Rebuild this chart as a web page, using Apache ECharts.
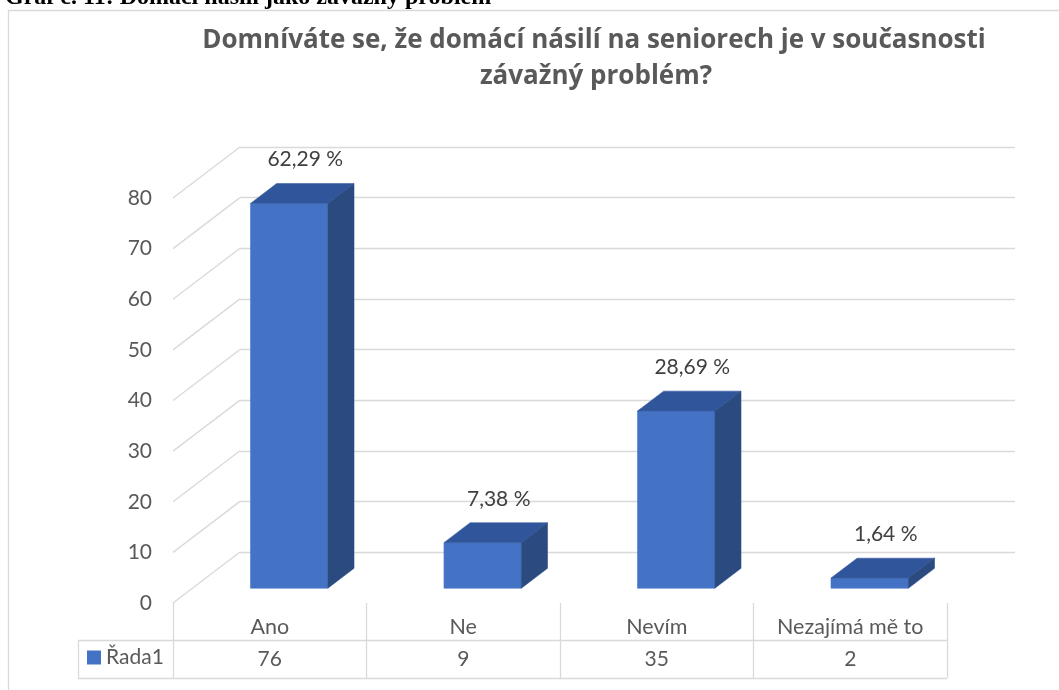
<!DOCTYPE html>
<html>
<head>
<meta charset="utf-8">
<script src="https://cdn.jsdelivr.net/npm/echarts@6/dist/echarts.min.js"></script>
<style>
html,body{margin:0;padding:0;background:#fff;}
#chart{width:1059px;height:690px;}
</style>
</head>
<body>
<div id="chart"></div>
<script>
// ---- data ----
const categories = ['Ano', 'Ne', 'Nevím', 'Nezajímá mě to'];
const counts = [76, 9, 35, 2];
const percentLabels = ['62,29 %', '7,38 %', '28,69 %', '1,64 %'];
const yTicks = [0, 10, 20, 30, 40, 50, 60, 70, 80];
const seriesName = 'Řada1';
const titleLines = ['Domníváte se, že domácí násilí na seniorech je v současnosti', 'závažný problém?'];
const headerText = 'Graf č. 11: Domácí násilí jako závažný problém';

// ---- 3D look constants (oblique projection) ----
const DEPTH_DX = 67, DEPTH_DY = -51;     // full floor depth
const FRONT_T = 0.29, BAR_T = 0.39;      // bar front position & bar depth (fraction of full depth)
const GRID_COLOR = '#d9d9d9';
const FONT = 'Lato';

const chart = echarts.init(document.getElementById('chart'), null, {renderer: 'canvas'});

const option = {
  animation: false,
  color: ['#4472C4'],
  grid: [
    {left: 173, right: 112, top: 198, bottom: 87},
    {left: 240, right: 44, top: 147, bottom: 138}
  ],
  legend: {
    data: [seriesName], left: 87, top: 647, padding: 0, icon: 'rect',
    itemWidth: 14, itemHeight: 14, selectedMode: false,
    textStyle: {fontFamily: FONT, fontSize: 21, color: '#595959'}
  },
  xAxis: [
    {
      gridIndex: 0, type: 'category', data: categories, boundaryGap: true,
      axisLine: {show: false},
      axisTick: {show: true, interval: 0, length: 75, lineStyle: {color: GRID_COLOR, width: 1.3}},
      axisLabel: {interval: 0, margin: 24, verticalAlign: 'middle', fontFamily: FONT, fontSize: 21.5, color: '#595959'}
    },
    {gridIndex: 1, type: 'category', data: categories, show: false}
  ],
  yAxis: [
    {
      gridIndex: 0, type: 'value', min: 0, max: 80, interval: 10,
      splitLine: {show: false}, axisLine: {show: false}, axisTick: {show: false},
      axisLabel: {margin: 21, fontFamily: FONT, fontSize: 21, color: '#595959'}
    },
    {
      gridIndex: 1, type: 'value', min: 0, max: 80, interval: 10,
      splitLine: {show: true, lineStyle: {color: GRID_COLOR, width: 1.3}},
      axisLine: {show: false}, axisTick: {show: false}, axisLabel: {show: false}
    }
  ],
  graphic: [
    {type: 'rect', z: -10, shape: {x: 8.5, y: 10.5, width: 1200, height: 900},
     style: {fill: '#fff', stroke: GRID_COLOR, lineWidth: 1.3}},
    {type: 'text', z: -5, x: 5, y: 10, style: {text: headerText, font: 'bold 24px "Liberation Serif"', fill: '#000', textVerticalAlign: 'bottom'}},
    {type: 'text', x: 594, y: 41, style: {text: titleLines[0], font: 'bold 26px "Open Sans"', fill: '#595959', textAlign: 'center', textVerticalAlign: 'middle'}},
    {type: 'text', x: 596, y: 77, style: {text: titleLines[1], font: 'bold 26px "Open Sans"', fill: '#595959', textAlign: 'center', textVerticalAlign: 'middle'}},
    {type: 'line', shape: {x1: 78, y1: 640.5, x2: 947, y2: 640.5}, style: {stroke: GRID_COLOR, lineWidth: 1.3}},
    {type: 'line', shape: {x1: 78, y1: 678.5, x2: 947, y2: 678.5}, style: {stroke: GRID_COLOR, lineWidth: 1.3}},
    {type: 'line', shape: {x1: 78.5, y1: 640, x2: 78.5, y2: 678.5}, style: {stroke: GRID_COLOR, lineWidth: 1.3}}
  ],
  series: [
    {
      // side-wall diagonal gridlines
      type: 'custom', name: 'wall', xAxisIndex: 0, yAxisIndex: 0, silent: true, z: 1,
      data: yTicks.map(v => [0, v]),
      renderItem: function (params, api) {
        const y = api.coord([0, api.value(1)])[1];
        const x = params.coordSys.x;
        return {
          type: 'line',
          shape: {x1: x, y1: y, x2: x + DEPTH_DX, y2: y + DEPTH_DY},
          style: {stroke: GRID_COLOR, lineWidth: 1.3}
        };
      }
    },
    {
      type: 'custom', name: seriesName, xAxisIndex: 0, yAxisIndex: 0, z: 5,
      itemStyle: {color: '#4472C4'},
      data: counts.map((v, i) => [i, v]),
      renderItem: function (params, api) {
        const i = api.value(0), v = api.value(1);
        const base = api.coord([i, 0]);
        const top = api.coord([i, v]);
        const band = api.size([1, 0])[0];
        const bw = band * 0.4;
        const fdx = DEPTH_DX * FRONT_T, fdy = DEPTH_DY * FRONT_T;
        const bdx = DEPTH_DX * BAR_T, bdy = DEPTH_DY * BAR_T;
        const x1 = base[0] - bw / 2 + fdx, x2 = x1 + bw;
        const y0 = base[1] + fdy, y1 = top[1] + fdy;
        return {
          type: 'group',
          children: [
            {type: 'polygon', shape: {points: [[x1, y1], [x2, y1], [x2, y0], [x1, y0]]},
             style: {fill: '#4472C4', stroke: '#4a78c8', lineWidth: 0.6}},
            {type: 'polygon', shape: {points: [[x1, y1], [x2, y1], [x2 + bdx, y1 + bdy], [x1 + bdx, y1 + bdy]]},
             style: {fill: '#30559A', stroke: '#3a5fa5', lineWidth: 0.6}},
            {type: 'polygon', shape: {points: [[x2, y1], [x2 + bdx, y1 + bdy], [x2 + bdx, y0 + bdy], [x2, y0]]},
             style: {fill: '#2A4A80', stroke: '#2f5088', lineWidth: 0.6}},
            {type: 'text', x: (x1 + x2) / 2 + bdx / 2 + 3, y: y1 + bdy - 24,
             style: {text: percentLabels[params.dataIndex], font: '21px ' + FONT, fill: '#404040',
                     textAlign: 'center', textVerticalAlign: 'middle'}}
          ]
        };
      }
    },
    {
      // data table values row
      type: 'custom', name: 'table', xAxisIndex: 0, yAxisIndex: 0, silent: true, z: 5,
      data: counts.map((v, i) => [i, v]),
      renderItem: function (params, api) {
        const x = api.coord([api.value(0), 0])[0];
        const y = params.coordSys.y + params.coordSys.height + 56;
        return {
          type: 'text', x: x, y: y,
          style: {text: String(api.value(1)), font: '21px ' + FONT, fill: '#595959',
                  textAlign: 'center', textVerticalAlign: 'middle'}
        };
      }
    }
  ]
};
chart.setOption(option);
</script>
</body>
</html>
